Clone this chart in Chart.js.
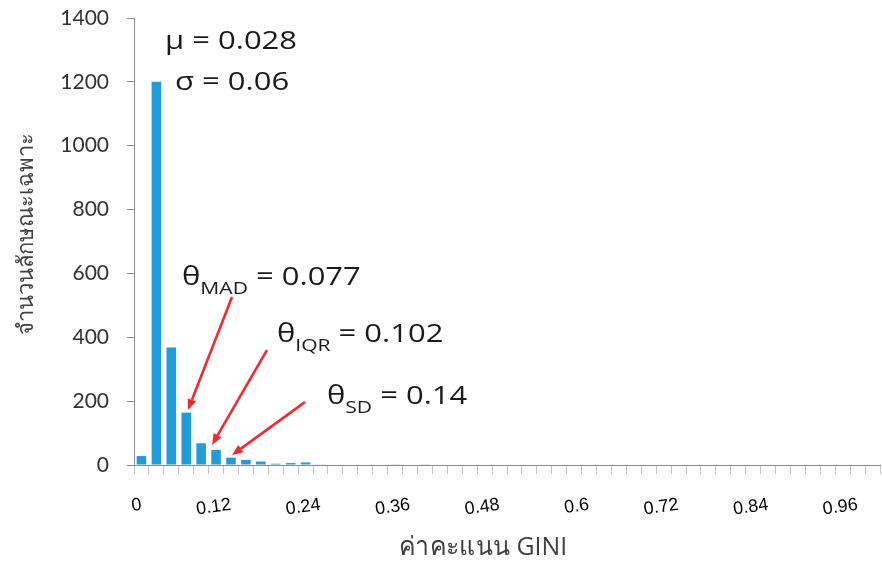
<!DOCTYPE html>
<html>
<head>
<meta charset="utf-8">
<script src="https://cdn.jsdelivr.net/npm/chart.js@4.4.0/dist/chart.umd.min.js"></script>
<style>
  html, body { margin: 0; padding: 0; background: #ffffff; }
  #wrap { width: 882px; height: 564px; }
</style>
</head>
<body>
<div id="wrap"><canvas id="c" width="882" height="564"></canvas></div>
<script>
// ---- data ----
const categories = ["0","0.02","0.04","0.06","0.08","0.1","0.12","0.14","0.16","0.18",
  "0.2","0.22","0.24","0.26","0.28","0.3","0.32","0.34","0.36","0.38",
  "0.4","0.42","0.44","0.46","0.48","0.5","0.52","0.54","0.56","0.58",
  "0.6","0.62","0.64","0.66","0.68","0.7","0.72","0.74","0.76","0.78",
  "0.8","0.82","0.84","0.86","0.88","0.9","0.92","0.94","0.96","0.98"];
const counts = [28,1200,368,164,68,47,23,16,11,4,
  6,8,2,0,0,0,0,1,0,1,
  0,0,0,0,0,0,0,0,0,0,
  0,0,0,0,0,0,0,0,0,0,
  0,0,0,0,0,0,0,0,0,0];
const xTickLabels = ["0","0.12","0.24","0.36","0.48","0.6","0.72","0.84","0.96"];
const yTickValues = [0,200,400,600,800,1000,1200,1400];
const xTitle = "ค่าคะแนน GINI";
const yTitle = "จำนวนลักษณะเฉพาะ";
const statTexts = [
  { main: "μ = 0.028" },
  { main: "σ = 0.06" },
  { main: "θ", sub: "MAD", rest: " = 0.077" },
  { main: "θ", sub: "IQR", rest: " = 0.102" },
  { main: "θ", sub: "SD", rest: " = 0.14" }
];

// ---- annotation placement (bin units on x, count units on y) ----
const textAnchors = [[2.08,1303],[2.75,1174],[3.22,564],[9.58,385],[12.93,191]];
const arrowPaths = [
  [[6.57,526],[3.62,172]],
  [[8.91,360],[5.23,63]],
  [[11.46,197],[6.57,31]]
];

const annotationPlugin = {
  id: 'stats',
  afterDraw(chart) {
    const ctx = chart.ctx;
    const xs = chart.scales.x, ys = chart.scales.y;
    const step = xs.getPixelForValue(1) - xs.getPixelForValue(0);
    const left = xs.getPixelForValue(0) - step / 2;
    const px = b => left + b * step;
    const py = v => ys.getPixelForValue(v);
    const sx = 1.24;
    const fam = "'Open Sans', 'Noto Sans', sans-serif";

    ctx.save();
    ctx.fillStyle = '#1a1a1a';
    ctx.textBaseline = 'alphabetic';
    ctx.textAlign = 'left';
    statTexts.forEach((t, i) => {
      const x = px(textAnchors[i][0]);
      const y = py(textAnchors[i][1]);
      ctx.save();
      ctx.translate(x, y);
      ctx.scale(sx, 1);
      let cur = 0;
      ctx.font = "25px " + fam;
      ctx.fillText(t.main, cur, 0);
      cur += ctx.measureText(t.main).width;
      if (t.sub) {
        ctx.font = "17px " + fam;
        ctx.fillText(t.sub, cur, 9);
        cur += ctx.measureText(t.sub).width;
        ctx.font = "25px " + fam;
        ctx.fillText(t.rest, cur, 0);
      }
      ctx.restore();
    });

    ctx.strokeStyle = '#ee2b2e';
    ctx.fillStyle = '#ee2b2e';
    ctx.lineWidth = 2.6;
    arrowPaths.forEach(p => {
      const x1 = px(p[0][0]), y1 = py(p[0][1]);
      const x2 = px(p[1][0]), y2 = py(p[1][1]);
      const ang = Math.atan2(y2 - y1, x2 - x1);
      const hl = 11, hw = 4.5;
      const bx = x2 - hl * Math.cos(ang), by = y2 - hl * Math.sin(ang);
      ctx.beginPath();
      ctx.moveTo(x1, y1);
      ctx.lineTo(bx, by);
      ctx.stroke();
      ctx.beginPath();
      ctx.moveTo(x2, y2);
      ctx.lineTo(bx + hw * Math.sin(ang), by - hw * Math.cos(ang));
      ctx.lineTo(bx - hw * Math.sin(ang), by + hw * Math.cos(ang));
      ctx.closePath();
      ctx.fill();
    });

    // axis titles
    ctx.fillStyle = '#404040';
    ctx.textAlign = 'center';
    ctx.textBaseline = 'middle';
    ctx.save();
    ctx.font = "26px " + fam;
    const wx = ctx.measureText(xTitle).width;
    const kx = Math.max(0.9, Math.min(1.3, 168 / wx));
    ctx.translate(px(23.4), chart.height - 16);
    ctx.scale(kx, 1);
    ctx.fillText(xTitle, 0, 0);
    ctx.restore();
    ctx.save();
    ctx.font = "22px " + fam;
    ctx.translate(27, (ys.top + ys.bottom) / 2 - 8);
    ctx.rotate(-Math.PI / 2);
    ctx.fillText(yTitle, 0, 0);
    ctx.restore();

    ctx.restore();
  }
};

new Chart(document.getElementById('c'), {
  type: 'bar',
  data: {
    labels: categories,
    datasets: [{
      data: counts,
      backgroundColor: '#1f9cd9',
      borderWidth: 0,
      barPercentage: 0.64,
      categoryPercentage: 1.0
    }]
  },
  options: {
    responsive: false,
    animation: false,
    devicePixelRatio: 1,
    layout: { padding: { top: 18, right: 2, left: 0, bottom: 0 } },
    plugins: { legend: { display: false }, tooltip: { enabled: false }, title: { display: false } },
    scales: {
      x: {
        grid: { display: true, drawOnChartArea: false, drawTicks: true, tickLength: 9, color: '#c4c4c4', offset: true },
        border: { display: true, color: '#8c8c8c', width: 1 },
        ticks: {
          autoSkip: false,
          minRotation: 8,
          maxRotation: 8,
          padding: 20,
          color: '#000000',
          font: { family: "'Liberation Sans', Arial, sans-serif", size: 18 },
          callback: (v, i) => (i % 6 === 0 ? xTickLabels[i / 6] : '')
        },
        title: { display: false },
        afterFit: s => { s.height = 99; s.paddingLeft = 0; s.paddingRight = 0; s.paddingTop = 0; s.paddingBottom = 0; }
      },
      y: {
        min: 0,
        max: 1400,
        afterBuildTicks: s => { s.ticks = yTickValues.map(v => ({ value: v })); },
        grid: { display: true, drawOnChartArea: false, drawTicks: true, tickLength: 7, color: '#8c8c8c' },
        border: { display: true, color: '#8c8c8c', width: 1 },
        ticks: {
          padding: 18,
          color: '#333333',
          font: { family: "Lato, 'Open Sans', sans-serif", size: 21 },
          callback: v => String(v)
        },
        title: { display: false },
        afterFit: s => { s.width = 134; s.paddingTop = 0; s.paddingBottom = 0; s.paddingLeft = 0; s.paddingRight = 0; }
      }
    }
  },
  plugins: [annotationPlugin]
});
</script>
</body>
</html>
